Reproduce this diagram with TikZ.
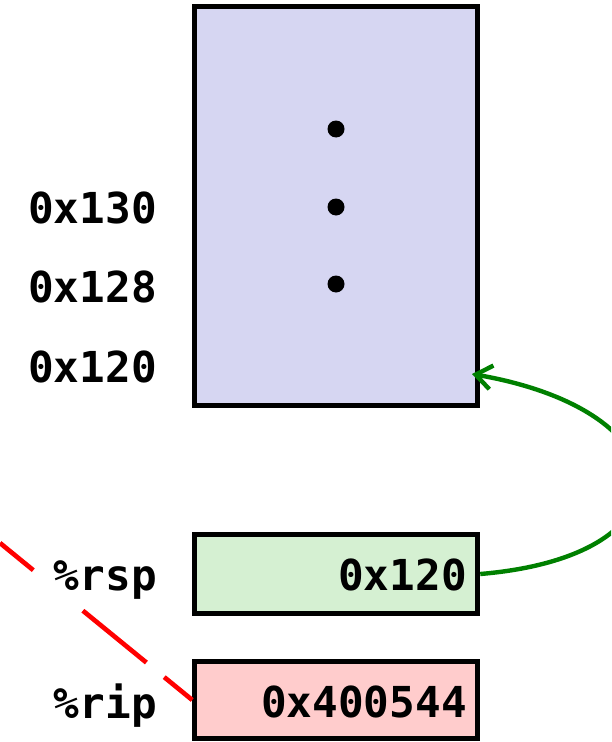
\documentclass[tikz,border=0pt]{standalone}
\usepackage{fontspec}
\newfontfamily\codefont{DejaVu Sans Mono}
\usetikzlibrary{arrows.meta}
\definecolor{stackfill}{HTML}{D6D6F2}
\definecolor{rspfill}{HTML}{D5F0D2}
\definecolor{ripfill}{HTML}{FFCCCC}
\definecolor{arrowgreen}{HTML}{008000}
\tikzset{
  membox/.style={draw=black, line width=3.75pt},
  lbl/.style={anchor=base east, inner sep=0pt, font=\codefont\bfseries\fontsize{32}{38}\selectfont},
  val/.style={anchor=base east, inner sep=0pt, font=\codefont\bfseries\fontsize{32}{38}\selectfont},
  stackdot/.style={fill=black, draw=none},
}
\begin{document}
\begin{tikzpicture}[x=0.75pt,y=-0.75pt]
\useasboundingbox (0,0) rectangle (611,742);
\clip (0,0) rectangle (611,742);
% stack
\draw[membox, fill=stackfill] (194.5,6.5) rectangle (477.5,405.5);
\node[coordinate] (stacktop) at (472,374) {};
\fill[stackdot] (336,129) circle (8.5);
\fill[stackdot] (336,207) circle (8.5);
\fill[stackdot] (336,284) circle (8.5);
% address labels
\node[lbl] (a130) at (157,223) {0x130};
\node[lbl] (a128) at (157,302) {0x128};
\node[lbl] (a120) at (157,382) {0x120};
% registers
\node[membox, fill=rspfill, minimum width=283*0.75pt, minimum height=79*0.75pt, inner sep=0pt] (rsp) at (336.25,574) {};
\node[membox, fill=ripfill, minimum width=283*0.75pt, minimum height=77*0.75pt, inner sep=0pt] (rip) at (336.25,700) {};
\node[lbl] (rsplbl) at (157,590) {\%rsp};
\node[lbl] (riplbl) at (157,718) {\%rip};
\node[val] (rspval) at (467,590) {0x120};
\node[val] (ripval) at (467,717) {0x400544};
% green pointer
\draw[arrowgreen, line width=3.3pt, -{Straight Barb[length=12pt,width=18pt]}]
  (rsp.east) .. controls (695,556) and (690,412) .. (stacktop);
% red dashed line
\coordinate (redstart) at (0,543);
\draw[red, line width=3.5pt, dash pattern=on 32.25pt off 48pt on 61.5pt off 17.25pt on 60pt]
  (redstart) -- (rip.west);
\end{tikzpicture}
\end{document}
